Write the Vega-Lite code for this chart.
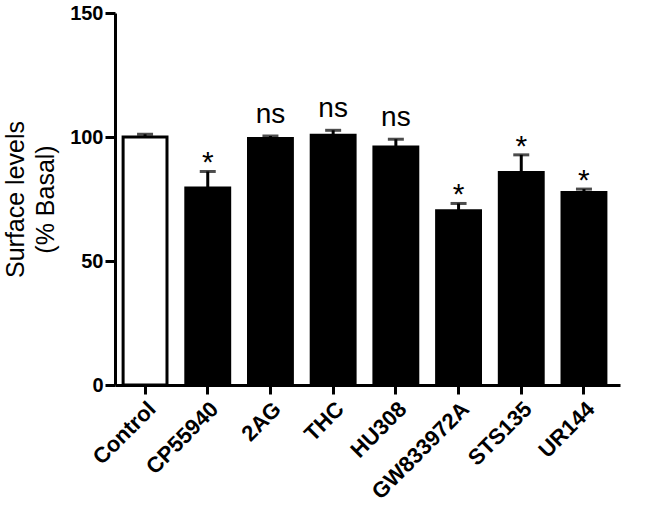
{
  "$schema": "https://vega.github.io/schema/vega-lite/v6.json",
  "autosize": {"type": "none"},
  "width": 505,
  "height": 372,
  "padding": {"left": 115, "top": 13, "right": 26, "bottom": 124},
  "background": "white",
  "config": {
    "view": {"stroke": null},
    "font": "Liberation Sans",
    "axis": {"grid": false, "domainColor": "black", "domainWidth": 3, "tickColor": "black", "tickWidth": 3, "labelColor": "black", "titleColor": "black", "labelFont": "Liberation Sans", "titleFont": "Liberation Sans"}
  },
  "data": {
    "values": [
      {"group": "Control", "mean": 100, "upper": 101.1, "sig": "", "fill": "white"},
      {"group": "CP55940", "mean": 79.4, "upper": 86.1, "sig": "*", "fill": "black"},
      {"group": "2AG", "mean": 99.4, "upper": 100.4, "sig": "ns", "fill": "black"},
      {"group": "THC", "mean": 100.7, "upper": 102.7, "sig": "ns", "fill": "black"},
      {"group": "HU308", "mean": 96, "upper": 99.1, "sig": "ns", "fill": "black"},
      {"group": "GW833972A", "mean": 70.3, "upper": 73.2, "sig": "*", "fill": "black"},
      {"group": "STS135", "mean": 85.7, "upper": 92.8, "sig": "*", "fill": "black"},
      {"group": "UR144", "mean": 77.6, "upper": 79.0, "sig": "*", "fill": "black"}
    ]
  },
  "encoding": {
    "x": {
      "field": "group", "type": "nominal", "sort": null,
      "scale": {"paddingInner": 0.3, "paddingOuter": 0.177, "align": 0.365},
      "axis": {"title": null, "labelAngle": -45, "labelFontSize": 22, "labelFontWeight": "bold", "tickSize": 9, "labelPadding": 4}
    }
  },
  "layer": [
    {
      "mark": {"type": "rule", "stroke": "black", "strokeWidth": 3},
      "encoding": {
        "y": {"field": "mean", "type": "quantitative"},
        "y2": {"field": "upper"}
      }
    },
    {
      "mark": {"type": "tick", "color": "black", "size": 16, "thickness": 3, "orient": "horizontal"},
      "encoding": {
        "y": {"field": "upper", "type": "quantitative"}
      }
    },
    {
      "mark": {"type": "bar", "stroke": "black", "strokeWidth": 3},
      "encoding": {
        "y": {
          "field": "mean", "type": "quantitative",
          "scale": {"domain": [0, 150], "nice": false, "zero": true},
          "axis": {
            "values": [0, 50, 100, 150],
            "labelFontSize": 20, "labelFontWeight": "bold", "tickSize": 10, "labelPadding": 2,
            "title": ["Surface levels", "(% Basal)"],
            "titleFontSize": 25, "titleFontWeight": "normal", "titleLineHeight": 30,
            "titleAngle": -90, "titleAlign": "center", "titleBaseline": "alphabetic",
            "titleX": -92, "titleY": 186
          }
        },
        "fill": {"field": "fill", "type": "nominal", "scale": null}
      }
    },
    {
      "transform": [{"filter": "datum.sig === 'ns'"}],
      "mark": {"type": "text", "fontSize": 28, "baseline": "alphabetic", "dy": -13, "color": "black"},
      "encoding": {
        "y": {"field": "upper", "type": "quantitative"},
        "text": {"field": "sig"}
      }
    },
    {
      "transform": [{"filter": "datum.sig === '*'"}],
      "mark": {"type": "text", "fontSize": 30, "baseline": "alphabetic", "dy": 1, "color": "black"},
      "encoding": {
        "y": {"field": "upper", "type": "quantitative"},
        "text": {"field": "sig"}
      }
    }
  ]
}
